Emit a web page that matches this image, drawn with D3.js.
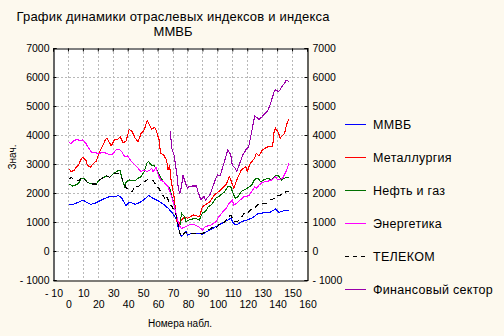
<!DOCTYPE html>
<html><head><meta charset="utf-8">
<script src="https://cdn.jsdelivr.net/npm/d3@7"></script>
<style>
html,body{margin:0;padding:0;background:#fdf9ee;}
svg{display:block;}
text{font-family:"Liberation Sans",Arial,sans-serif;fill:#000;}
</style></head><body>
<script>
const titleLines = ["График динамики отраслевых индексов и индекса", "ММВБ"];
const xLabel = "Номера набл.";
const yLabel = "Знач.";
const xTicks = [-10,0,10,20,30,40,50,60,70,80,90,100,110,120,130,140,150,160];
const yTicks = [-1000,0,1000,2000,3000,4000,5000,6000,7000];
const seriesNames = ["ММВБ","Металлургия","Нефть и газ","Энергетика","ТЕЛЕКОМ","Финансовый сектор"];
const seriesColors = ["#0000ff","#ff0000","#007000","#ff00ff","#000000","#9900aa"];

const mmvbObs = [1,3,5,7,10,12,15,18,21,25,28,31,34,36,39,41,45,48,51,54,57,60,64,67,70,72,73,74,75,76,79,80,83,88,90,93,97,101,105,109,111,113,116,120,123,127,130,135,139,141,145,148];
const mmvbVal = [1620,1590,1640,1680,1760,1690,1610,1640,1720,1820,1880,1870,1910,1820,1560,1690,1610,1670,1780,1910,1820,1740,1610,1480,1300,1150,1000,780,600,500,670,550,610,610,570,670,780,900,1010,1130,940,900,1010,1070,1130,1280,1310,1330,1450,1330,1400,1400];

const metObs = [1,2,4,5,7,9,10,12,13,15,17,19,21,23,25,26,28,29,31,33,35,37,39,41,43,45,47,49,51,53,55,56,58,59,61,62,64,66,67,68,69,71,72,73,74,76,78,80,84,88,90,92,95,98,101,104,106,108,109,111,113,116,119,120,122,125,126,128,130,132,134,137,138,139,141,142,145,146,147,148];
const metVal = [2820,2740,2780,2850,2960,3190,3230,3130,2960,2890,3020,3100,3400,3600,3830,3890,3720,3630,3830,3830,3940,3730,3800,4200,4120,3890,3770,4060,4170,4500,4310,4200,4270,4170,3830,3370,3310,3140,2790,2960,2450,1880,1410,1010,900,1070,1180,1130,1240,1180,1530,1590,1700,1930,2050,2200,2300,2560,2450,2160,2450,2790,2910,2740,3020,3200,3370,3280,3480,3540,3600,3600,4120,4230,4060,3890,4060,4290,4460,4540];

const oilObs = [1,3,5,7,9,11,13,16,19,21,24,26,28,30,31,34,35,36,38,39,41,45,47,49,51,53,54,56,58,60,62,64,67,68,70,72,73,74,75,76,78,79,81,85,88,90,92,94,96,99,101,105,107,109,110,112,114,116,118,120,123,125,127,129,131,134,136,138,140,141,143,145,146,148];
const oilVal = [2310,2240,2270,2330,2510,2510,2360,2310,2310,2450,2540,2590,2540,2650,2680,2790,2770,2510,2220,2390,2450,2420,2510,2560,2740,3040,3080,2960,2930,2740,2540,2390,2220,2200,1800,1400,1100,950,900,1300,1180,1010,1070,1130,1070,1310,1360,1530,1590,1820,1880,2050,2220,2220,2050,1820,1880,2050,2110,2160,2280,2470,2510,2390,2450,2510,2450,2560,2620,2590,2450,2510,2540,2540];

const enObs = [1,2,3,6,8,10,12,14,16,18,20,24,26,28,30,32,34,36,38,40,42,45,47,49,51,53,55,56,57,59,60,62,64,67,69,71,72,74,75,76,79,81,85,88,90,92,96,99,101,103,106,108,110,111,113,116,118,121,123,125,126,128,130,132,135,137,139,140,142,144,146,148];
const enVal = [3740,3690,3770,3850,3810,3830,3710,3540,3390,3390,3370,3390,3370,3310,3350,3480,3510,3430,3250,3280,3110,2960,2850,2740,2790,2740,2790,2850,2740,2880,2680,2450,2390,2220,1930,1590,1360,960,840,780,840,900,900,820,720,840,900,1010,1180,1310,1480,1650,1760,1590,1650,1790,1880,1900,2050,2220,2160,2280,2360,2390,2420,2470,2560,2470,2450,2540,2740,3040];

const telObs = [1,2,4,7,9,11,13,16,19,21,24,26,28,30,32,34,36,37,39,41,43,45,47,49,51,53,55,57,59,61,63,65,66,68,70,72,73,74,75,76,78,80,83,86,90,92,97,99,101,103,105,107,109,111,113,115,118,120,123,125,127,130,133,136,138,140,141,144,146,148];
const telVal = [2470,2540,2470,2420,2510,2480,2360,2310,2310,2450,2540,2590,2540,2650,2680,2660,2540,2390,2180,2110,2050,2250,2220,2300,2390,2450,2470,2420,2280,2150,1970,1790,1880,1650,1500,1300,1100,850,600,500,620,640,610,600,600,670,820,780,900,940,1000,1180,1230,1040,1010,1070,1310,1310,1450,1480,1600,1650,1650,1780,1800,1930,1900,1980,2050,2050];

const finObs = [68.5,69.5,71,72,73,74,75,76,77,78,80,81,83,86,87,89,91,92,95,97,99,100,102,104,106,107,109,110,112,113,115,117,119,121,123,125,126,128,130,131,134,136,138,139,141,142,143,145,146,148];
const finVal = [4120,3550,3310,2960,2600,2100,1990,2220,2620,2450,2160,2220,2240,2240,2050,1760,1880,1760,1930,2220,2510,2620,2600,2960,3310,3480,3310,2960,2850,2740,3020,3310,3480,3600,4120,4660,4620,4540,4630,4690,4860,5150,5490,5550,5500,5550,5660,5780,5900,5840];

const seriesObs = [mmvbObs, metObs, oilObs, enObs, telObs, finObs];
const seriesVal = [mmvbVal, metVal, oilVal, enVal, telVal, finVal];
const seriesDash = [null,null,null,null,"5,4",null];

const W = 504, H = 336;
const svg = d3.select("body").append("svg").attr("width", W).attr("height", H);
const L = 53, R = 307, T = 48, B = 280;
const x = d3.scaleLinear().domain([-10,160]).range([L,R]);
const y = d3.scaleLinear().domain([-1000,7000]).range([B,T]);

// plot background
svg.append("rect").attr("x",L).attr("y",T).attr("width",R-L).attr("height",B-T).attr("fill","#fff");

// grid
const gx = xTicks.filter(d => d > -10 && d < 160);
const gy = yTicks.filter(d => d > -1000 && d < 7000);
svg.append("g").selectAll("line").data(gx).join("line")
  .attr("x1", d => Math.round(x(d))+0.5).attr("x2", d => Math.round(x(d))+0.5)
  .attr("y1", T).attr("y2", B)
  .attr("stroke","#b8b8b8").attr("stroke-dasharray","2,2");
svg.append("g").selectAll("line").data(gy).join("line")
  .attr("y1", d => Math.round(y(d))+0.5).attr("y2", d => Math.round(y(d))+0.5)
  .attr("x1", L).attr("x2", R)
  .attr("stroke","#b8b8b8").attr("stroke-dasharray","2,2");

// series
const line = d3.line().x(d => x(d[0])).y(d => y(d[1]));
const plot = svg.append("g");
seriesObs.forEach((obs, i) => {
  const pts = obs.map((o, j) => [o, seriesVal[i][j]]);
  plot.append("path").datum(pts).attr("d", line)
    .attr("fill","none").attr("stroke", seriesColors[i]).attr("stroke-width",1.1)
    .attr("shape-rendering","crispEdges")
    .attr("stroke-dasharray", seriesDash[i]);
});

// axes
const fmt = d => d < 0 ? "- " + Math.abs(d) : String(d);
const axL = svg.append("g").attr("transform",`translate(${L+0.5},0)`)
  .call(d3.axisLeft(y).tickValues(yTicks).tickSize(-3).tickPadding(4).tickFormat(fmt));
const axR = svg.append("g").attr("transform",`translate(${R+0.5},0)`)
  .call(d3.axisRight(y).tickValues(yTicks).tickSize(-3).tickPadding(5).tickFormat(fmt));
const axT = svg.append("g").attr("transform",`translate(0,${T+0.5})`)
  .call(d3.axisTop(x).tickValues(xTicks).tickSize(-3).tickFormat(""));
const axB = svg.append("g").attr("transform",`translate(0,${B+0.5})`)
  .call(d3.axisBottom(x).tickValues(xTicks).tickSize(0).tickFormat(""));
[axL,axR,axT,axB].forEach(a => {
  a.select(".domain").attr("stroke","#000").attr("stroke-width",1.2);
  a.selectAll(".tick line").attr("stroke","#000");
  a.selectAll("text").attr("font-size",10.5).attr("font-family","Liberation Sans, Arial, sans-serif").attr("fill","#000");
});
axT.select(".domain").attr("stroke-width",1);

// x tick labels, two rows
svg.append("g").selectAll("text").data(xTicks).join("text")
  .attr("x", d => x(d) + 1)
  .attr("y", (d,i) => i % 2 === 0 ? 297 : 308)
  .attr("text-anchor","middle").attr("font-size",10.5)
  .text(fmt);

// axis titles
svg.append("text").attr("x",180).attr("y",327).attr("text-anchor","middle").attr("font-size",10).text(xLabel);
svg.append("text").attr("transform","translate(16,157) rotate(-90)").attr("text-anchor","middle").attr("font-size",10).text(yLabel);

// title
svg.append("text").attr("x",173).attr("y",21).attr("text-anchor","middle").attr("font-size",13)
  .attr("textLength",313).attr("lengthAdjust","spacing").text(titleLines[0]);
svg.append("text").attr("x",173).attr("y",36).attr("text-anchor","middle").attr("font-size",13)
  .attr("textLength",39).attr("lengthAdjust","spacing").text(titleLines[1]);

// legend
const lg = svg.append("g");
seriesNames.forEach((n, i) => {
  const yy = 124 + i * 32.9;
  lg.append("line").attr("x1",345).attr("x2",366).attr("y1",Math.round(yy)+0.5).attr("y2",Math.round(yy)+0.5)
    .attr("stroke", seriesColors[i]).attr("stroke-dasharray", seriesDash[i] ? "4,4" : null);
  lg.append("text").attr("x",373).attr("y",yy+5).attr("font-size",12.5).attr("letter-spacing",0.3).text(n);
});
</script>
</body></html>
